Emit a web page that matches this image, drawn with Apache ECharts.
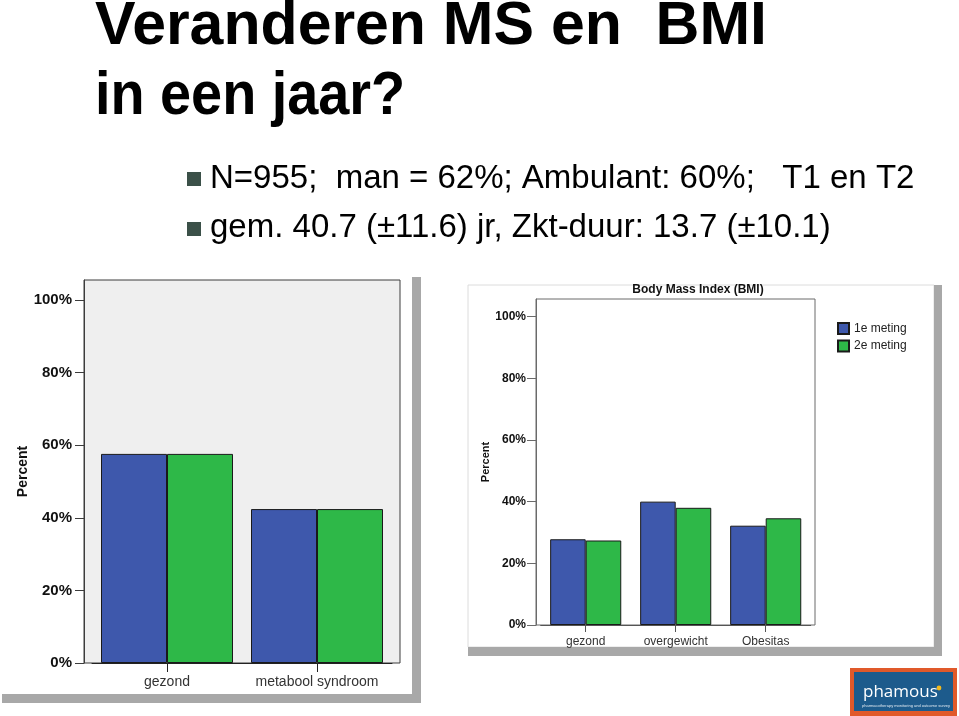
<!DOCTYPE html>
<html><head><meta charset="utf-8">
<script src="https://cdn.jsdelivr.net/npm/echarts@6/dist/echarts.min.js"></script>
<style>html,body{margin:0;padding:0;background:#fff}#c{width:959px;height:716px}</style>
</head><body><div id="c"></div>
<script>
// ---- data ----
const titleLines = ['Veranderen MS en  BMI', 'in een jaar?'];
const bulletLines = ['N=955;  man = 62%; Ambulant: 60%;   T1 en T2', 'gem. 40.7 (±11.6) jr, Zkt-duur: 13.7 (±10.1)'];
const seriesNames = ['1e meting', '2e meting'];
const msCategories = ['gezond', 'metabool syndroom'];
const msMeting1 = [57.6, 42.4];
const msMeting2 = [57.6, 42.4];
const bmiTitle = 'Body Mass Index (BMI)';
const bmiCategories = ['gezond', 'overgewicht', 'Obesitas'];
const bmiMeting1 = [27.8, 40.0, 32.2];
const bmiMeting2 = [27.4, 38.0, 34.6];
const yTicks = [0, 20, 40, 60, 80, 100];
const yAxisName = 'Percent';
const logoName = 'phamous';
const logoTagline = 'pharmacotherapy monitoring and outcome survey';

// ---- styles ----
const BLUE = '#3e58ac', GREEN = '#2eb848';
const FONT = 'Liberation Sans, Arial, sans-serif';
const chart = echarts.init(document.getElementById('c'), null, {renderer: 'canvas'});

function yAxisCfg(grid, max, offset, labelSize, margin, nameSize, nameGap, lineColor) {
  return {
    type: 'value', gridIndex: grid, min: 0, max: max, offset: offset, z: 6,
    axisLine: {show: true, lineStyle: {color: lineColor, width: 1}},
    axisTick: {show: true, length: 9, customValues: yTicks, lineStyle: {color: lineColor}},
    axisLabel: {customValues: yTicks, margin: margin, color: '#111', fontWeight: 'bold',
      fontSize: labelSize, fontFamily: FONT,
      formatter: v => (v % 20 === 0 ? v + '%' : '')},
    splitLine: {show: false},
    name: yAxisName, nameLocation: 'middle', nameRotate: 90, nameGap: nameGap,
    nameTextStyle: {fontWeight: 'bold', fontSize: nameSize, color: '#111', fontFamily: FONT}
  };
}
function xAxisCfg(grid, cats, labelSize, margin, tickLen, lineColor) {
  return {
    type: 'category', gridIndex: grid, data: cats, z: 6,
    axisLine: {show: true, lineStyle: {color: lineColor, width: 1}},
    axisTick: {show: true, alignWithLabel: true, length: tickLen, lineStyle: {color: lineColor}},
    axisLabel: {margin: margin, color: '#333', fontSize: labelSize, fontFamily: FONT, interval: 0}
  };
}
function barSeries(name, xi, data, color, gapCat) {
  return {
    name: name, type: 'bar', xAxisIndex: xi, yAxisIndex: xi, data: data, z: 5,
    barGap: '0%', barCategoryGap: gapCat,
    itemStyle: {color: color, borderColor: '#1a1a1a', borderWidth: 1},
    emphasis: {disabled: true}, animation: false
  };
}

const graphics = [
  // left chart shadow + frame
  {type: 'rect', shape: {x: 412, y: 277, width: 9, height: 426}, style: {fill: '#a8a8a8'}, z: 1},
  {type: 'rect', shape: {x: 2, y: 694, width: 419, height: 9}, style: {fill: '#a8a8a8'}, z: 1},
  {type: 'rect', shape: {x: 84, y: 280, width: 316, height: 383}, style: {fill: '#efefef', stroke: '#3c3c3c', lineWidth: 1}, z: 1},
  // right chart shadow + frame
  {type: 'rect', shape: {x: 468, y: 285, width: 466, height: 362}, style: {fill: '#fff', stroke: '#dcdcdc', lineWidth: 1}, z: 1},
  {type: 'rect', shape: {x: 934, y: 285, width: 8, height: 371}, style: {fill: '#a8a8a8'}, z: 1},
  {type: 'rect', shape: {x: 468, y: 647, width: 474, height: 9}, style: {fill: '#a8a8a8'}, z: 1},
  {type: 'rect', shape: {x: 536, y: 299, width: 279, height: 326}, style: {fill: '#fff', stroke: '#6a6a6a', lineWidth: 1}, z: 2},
  {type: 'text', x: 698, y: 290, z: 10, style: {text: bmiTitle, font: 'bold 12px ' + FONT, fill: '#111', align: 'center', verticalAlign: 'middle'}},
  // slide title
  {type: 'text', x: 95, y: 27, scaleX: 0.98, z: 10, style: {x: 0, y: 0, text: titleLines[0], font: 'bold 62px ' + FONT, fill: '#000', verticalAlign: 'middle'}},
  {type: 'text', x: 95, y: 97, scaleX: 0.9, z: 10, style: {x: 0, y: 0, text: titleLines[1], font: 'bold 62px ' + FONT, fill: '#000', verticalAlign: 'middle'}},
  // bullets
  {type: 'rect', shape: {x: 187, y: 172, width: 14, height: 14}, style: {fill: '#3b5048'}, z: 10},
  {type: 'rect', shape: {x: 187, y: 222, width: 14, height: 14}, style: {fill: '#3b5048'}, z: 10},
  {type: 'text', x: 210, y: 179, z: 10, style: {text: bulletLines[0], font: '33px ' + FONT, fill: '#000', verticalAlign: 'middle'}},
  {type: 'text', x: 210, y: 228, z: 10, style: {text: bulletLines[1], font: '33px ' + FONT, fill: '#000', verticalAlign: 'middle'}},
  // logo
  {type: 'rect', shape: {x: 850, y: 668, width: 107, height: 48}, style: {fill: '#e0592a'}, z: 10},
  {type: 'rect', shape: {x: 854, y: 672, width: 99, height: 39}, style: {fill: '#1d5b8c'}, z: 11},
  {type: 'text', x: 863, y: 692, z: 12, style: {text: logoName, font: '17px Open Sans, sans-serif', fill: '#fff', verticalAlign: 'middle'}},
  {type: 'circle', shape: {cx: 939, cy: 688, r: 2.4}, style: {fill: '#f2b81c'}, z: 12},
  {type: 'text', x: 862, y: 706, z: 12, style: {text: logoTagline, font: '4px ' + FONT, fill: '#dfe8f0', verticalAlign: 'middle'}}
];

const option = {
  backgroundColor: '#fff',
  animation: false,
  textStyle: {fontFamily: FONT},
  grid: [
    {left: 92, width: 300, top: 280, bottom: 716 - 663, containLabel: false},
    {left: 540.7, width: 270, top: 299, bottom: 716 - 625, containLabel: false}
  ],
  xAxis: [
    xAxisCfg(0, msCategories, 14, 12, 9, '#222'),
    xAxisCfg(1, bmiCategories, 12, 11, 7, '#555')
  ],
  yAxis: [
    yAxisCfg(0, 105.5, 8, 15, 12, 14, 54, '#3c3c3c'),
    yAxisCfg(1, 105.7, 4.7, 12, 10, 11, 45, '#6a6a6a')
  ],
  legend: {
    data: seriesNames, orient: 'vertical', left: 837, top: 322, padding: 0, z: 10,
    itemWidth: 11, itemHeight: 11, itemGap: 4.5, icon: 'rect', selectedMode: false,
    textStyle: {fontSize: 12, lineHeight: 11, color: '#222', fontFamily: FONT}
  },
  series: [
    barSeries(seriesNames[0], 0, msMeting1, BLUE, '12%'),
    barSeries(seriesNames[1], 0, msMeting2, GREEN, '12%'),
    barSeries(seriesNames[0], 1, bmiMeting1, BLUE, '21%'),
    barSeries(seriesNames[1], 1, bmiMeting2, GREEN, '21%')
  ],
  graphic: {elements: graphics}
};
chart.setOption(option);
</script></body></html>
